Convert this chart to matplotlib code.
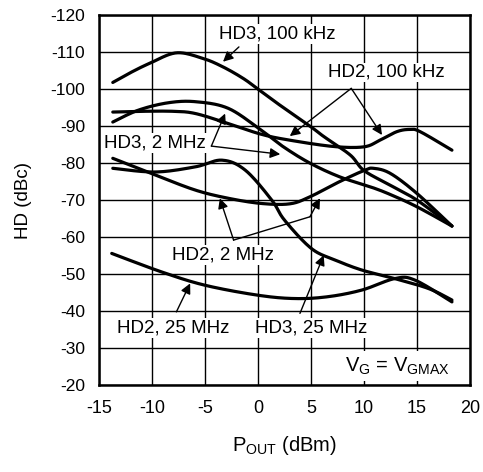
import numpy as np
import matplotlib
matplotlib.use("Agg")
import matplotlib.pyplot as plt

plt.rcParams['font.family'] = ['Liberation Sans', 'DejaVu Sans']
plt.rcParams['axes.unicode_minus'] = False

# curves (x: POUT in dBm, y: HD in dBc)
hd3_100k_x = [-13.7, -12, -10.2, -7.7, -5.2, -3.3, -1.4, 0, 2, 5, 6.2, 8.7, 10, 12.5, 15, 18.3]
hd3_100k_y = [-101.8, -104.5, -107, -109.8, -108.3, -106, -102.9, -100, -95.8, -89.8, -87.2, -82.2, -78, -74, -70, -63]

hd2_100k_x = [-13.7, -11, -8, -5.9, -2.8, 0.3, 3, 7.1, 10, 11.5, 13.1, 14.3, 15.3, 18.3]
hd2_100k_y = [-93.8, -94, -94, -93.4, -90.7, -87.8, -86.2, -84.5, -84.4, -86.2, -88.5, -89.1, -88.5, -83.5]

hd3_2m_x = [-13.7, -11.3, -8.5, -5.9, -2.8, 0.3, 2.4, 4.9, 7.7, 10.6, 12.5, 15, 18.3]
hd3_2m_y = [-91.1, -94.3, -96.3, -96.6, -94.8, -88.9, -84.4, -80, -76.3, -73.6, -71.5, -68.2, -63]

hd2_2m_x = [-13.7, -9.7, -5.9, -2.8, 0.3, 3, 4.9, 7.7, 10, 10.9, 12.5, 15, 18.3]
hd2_2m_y = [-81.3, -76.8, -72.7, -70.5, -69.1, -69, -70.9, -75, -78, -78.6, -77.2, -71.8, -63]

hd3_25m_x = [-13.7, -9.7, -5.9, -3.4, -1.2, 1.3, 2.5, 5.05, 7.3, 9.8, 12.9, 16.1, 18.3]
hd3_25m_y = [-78.6, -77.6, -79, -80.8, -78.1, -70, -64.6, -56.9, -53.8, -51.1, -48.8, -46.1, -43]

hd2_25m_x = [-13.8, -9.1, -5, 0, 3.5, 6.6, 9.8, 12.9, 14.8, 18.3]
hd2_25m_y = [-55.6, -50.6, -47, -44.3, -43.4, -43.9, -45.7, -48.8, -48.4, -42.5]

x_ticks = [-15, -10, -5, 0, 5, 10, 15, 20]
y_ticks = [-120, -110, -100, -90, -80, -70, -60, -50, -40, -30, -20]


def smooth(xs, ys, n=20):
    # catmull-rom through the read points, just for drawing
    p = np.column_stack([xs, ys]).astype(float)
    p = np.vstack([p[0], p, p[-1]])
    out = []
    t = np.linspace(0, 1, n, endpoint=False)[:, None]
    for i in range(1, len(p) - 2):
        p0, p1, p2, p3 = p[i - 1], p[i], p[i + 1], p[i + 2]
        seg = 0.5 * ((2 * p1) + (-p0 + p2) * t + (2 * p0 - 5 * p1 + 4 * p2 - p3) * t ** 2
                     + (-p0 + 3 * p1 - 3 * p2 + p3) * t ** 3)
        out.append(seg)
    out.append(p[-2][None, :])
    out = np.vstack(out)
    return out[:, 0], out[:, 1]


fig = plt.figure(figsize=(4.83, 4.72), dpi=100)
ax = fig.add_axes([0.205, 0.184, 0.768, 0.784])

curves = [(hd3_100k_x, hd3_100k_y), (hd2_100k_x, hd2_100k_y), (hd3_2m_x, hd3_2m_y),
          (hd2_2m_x, hd2_2m_y), (hd3_25m_x, hd3_25m_y), (hd2_25m_x, hd2_25m_y)]
for cx, cy in curves:
    sx, sy = smooth(cx, cy)
    ax.plot(sx, sy, color="black", lw=2.3, solid_capstyle="round", zorder=3)

ax.set_xlim(-15, 20)
ax.set_ylim(-20, -120)
ax.set_xticks(x_ticks)
ax.set_yticks(y_ticks)
ax.tick_params(axis="x", length=0, labelsize=13, pad=11)
ax.tick_params(axis="y", length=0, labelsize=12.5, pad=10)
ax.grid(True, color="black", lw=1.0)
for s in ax.spines.values():
    s.set_linewidth(1.8)
ax.set_axisbelow(True)

ax.set_ylabel("HD (dBc)", fontsize=13.5, labelpad=13)
ax.set_xlabel(r"$\mathregular{P_{OUT}}$ (dBm)", fontsize=14.5, labelpad=12)

box = dict(facecolor="white", edgecolor="none", pad=1)
tk = dict(fontsize=13.5, ha="center", va="center", bbox=box, zorder=5)
arr = dict(arrowstyle="-|>", color="black", lw=1.0, mutation_scale=15, shrinkA=0, shrinkB=0)

ax.text(1.8, -114.9, "HD3, 100 kHz", **tk)
ax.annotate("", xy=(-3.3, -107.4), xytext=(-1.8, -111.4), arrowprops=arr, zorder=6)

ax.text(12.1, -104.5, "HD2, 100 kHz", **tk)
ax.annotate("", xy=(3.0, -87.3), xytext=(8.8, -100.2), arrowprops=arr, zorder=6)
ax.annotate("", xy=(11.7, -87.6), xytext=(8.8, -100.2), arrowprops=arr, zorder=6)

ax.text(-9.7, -85.5, "HD3, 2 MHz", **tk)
ax.annotate("", xy=(-3.1, -93.4), xytext=(-4.4, -84.6), arrowprops=arr, zorder=6)
ax.annotate("", xy=(2.1, -82.4), xytext=(-4.4, -84.6), arrowprops=arr, zorder=6)

ax.text(-3.3, -55.1, "HD2, 2 MHz", **tk)
ax.annotate("", xy=(-3.6, -70.5), xytext=(-2.3, -59.2), arrowprops=arr, zorder=6)
ax.plot([-2.3, 4.9], [-59.2, -65.5], color="black", lw=1.0, zorder=6)
ax.annotate("", xy=(5.85, -70.5), xytext=(4.9, -65.5), arrowprops=arr, zorder=6)

ax.text(-8.0, -35.4, "HD2, 25 MHz", **tk)
ax.annotate("", xy=(-6.4, -47.5), xytext=(-7.7, -39.8), arrowprops=arr, zorder=6)

ax.text(5.05, -35.4, "HD3, 25 MHz", **tk)
ax.annotate("", xy=(6.2, -55.1), xytext=(3.96, -39.4), arrowprops=arr, zorder=6)

ax.text(13.2, -25.1, r"$\mathregular{V_G}$ = $\mathregular{V_{GMAX}}$", fontsize=14.5,
        ha="center", va="center", bbox=dict(facecolor="white", edgecolor="none", pad=3), zorder=5)

fig.savefig("out.png", dpi=100)
